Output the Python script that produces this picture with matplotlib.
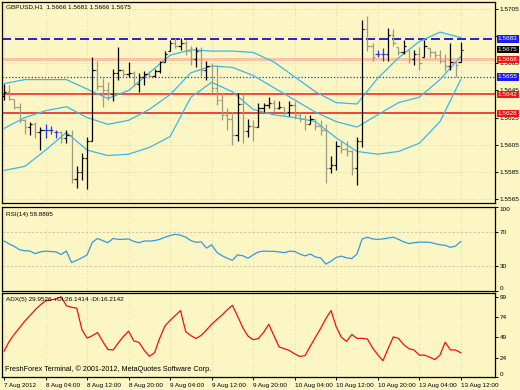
import numpy as np
import matplotlib.pyplot as plt
from matplotlib.transforms import blended_transform_factory

plt.rcParams['font.family'] = ['Liberation Sans', 'DejaVu Sans']

bg = '#fcf6c4'

# GBPUSD H1, 7 Aug 20:00 .. 13 Aug 12:00
opens = [1.5641, 1.5644, 1.5639, 1.5633, 1.5623, 1.5618, 1.5620, 1.5614, 1.5616, 1.5616,
         1.5614, 1.5614, 1.5610, 1.5612, 1.5580, 1.5585, 1.5595, 1.5608, 1.5660, 1.5648,
         1.5645, 1.5642, 1.5658, 1.5660, 1.5657, 1.5658, 1.5650, 1.5655, 1.5657, 1.5656,
         1.5659, 1.5666, 1.5674, 1.5680, 1.5678, 1.5680, 1.5674, 1.5668, 1.5674, 1.5660,
         1.5663, 1.5647, 1.5638, 1.5627, 1.5624, 1.5612, 1.5635, 1.5615, 1.5619, 1.5618,
         1.5632, 1.5634, 1.5636, 1.5632, 1.5633, 1.5629, 1.5634, 1.5627, 1.5624, 1.5620,
         1.5624, 1.5619, 1.5616, 1.5588, 1.5590, 1.5604, 1.5602, 1.5600, 1.5588, 1.5608,
         1.5690, 1.5678, 1.5672, 1.5672, 1.5672, 1.5686, 1.5677, 1.5673, 1.5675, 1.5668,
         1.5672, 1.5670, 1.5676, 1.5673, 1.5671, 1.5667, 1.5663, 1.5666, 1.5666]
highs = [1.5650, 1.5649, 1.5639, 1.5636, 1.5624, 1.5622, 1.5622, 1.5618, 1.5620, 1.5619,
         1.5616, 1.5615, 1.5616, 1.5616, 1.5589, 1.5599, 1.5611, 1.5670, 1.5667, 1.5654,
         1.5651, 1.5661, 1.5677, 1.5661, 1.5666, 1.5659, 1.5658, 1.5659, 1.5659, 1.5661,
         1.5667, 1.5674, 1.5682, 1.5684, 1.5684, 1.5682, 1.5678, 1.5677, 1.5677, 1.5667,
         1.5665, 1.5664, 1.5643, 1.5632, 1.5629, 1.5643, 1.5642, 1.5624, 1.5623, 1.5636,
         1.5636, 1.5640, 1.5638, 1.5637, 1.5633, 1.5637, 1.5637, 1.5629, 1.5627, 1.5627,
         1.5624, 1.5623, 1.5620, 1.5597, 1.5608, 1.5608, 1.5608, 1.5601, 1.5611, 1.5697,
         1.5700, 1.5680, 1.5675, 1.5676, 1.5691, 1.5690, 1.5677, 1.5682, 1.5675, 1.5675,
         1.5677, 1.5682, 1.5676, 1.5674, 1.5675, 1.5672, 1.5680, 1.5667, 1.5681]
lows = [1.5638, 1.5638, 1.5631, 1.5621, 1.5613, 1.5612, 1.5610, 1.5601, 1.5610, 1.5613,
        1.5610, 1.5606, 1.5606, 1.5577, 1.5573, 1.5579, 1.5572, 1.5608, 1.5645, 1.5633,
        1.5638, 1.5637, 1.5653, 1.5655, 1.5655, 1.5648, 1.5644, 1.5649, 1.5655, 1.5655,
        1.5658, 1.5666, 1.5674, 1.5676, 1.5675, 1.5671, 1.5664, 1.5662, 1.5656, 1.5653,
        1.5643, 1.5634, 1.5623, 1.5616, 1.5605, 1.5608, 1.5606, 1.5611, 1.5608, 1.5618,
        1.5629, 1.5632, 1.5629, 1.5631, 1.5627, 1.5626, 1.5624, 1.5622, 1.5616, 1.5620,
        1.5616, 1.5612, 1.5577, 1.5584, 1.5586, 1.5599, 1.5597, 1.5583, 1.5575, 1.5603,
        1.5674, 1.5667, 1.5670, 1.5667, 1.5667, 1.5678, 1.5671, 1.5672, 1.5665, 1.5664,
        1.5660, 1.5670, 1.5670, 1.5669, 1.5665, 1.5659, 1.5660, 1.5655, 1.5666]
closes = [1.5644, 1.5639, 1.5633, 1.5623, 1.5618, 1.5620, 1.5614, 1.5616, 1.5616, 1.5616,
          1.5614, 1.5610, 1.5612, 1.5580, 1.5585, 1.5595, 1.5608, 1.5660, 1.5648, 1.5645,
          1.5642, 1.5658, 1.5660, 1.5657, 1.5658, 1.5650, 1.5655, 1.5657, 1.5656, 1.5659,
          1.5666, 1.5672, 1.5680, 1.5678, 1.5680, 1.5674, 1.5668, 1.5674, 1.5660, 1.5663,
          1.5647, 1.5638, 1.5627, 1.5624, 1.5612, 1.5635, 1.5615, 1.5619, 1.5618, 1.5632,
          1.5634, 1.5636, 1.5632, 1.5633, 1.5629, 1.5634, 1.5627, 1.5624, 1.5620, 1.5624,
          1.5619, 1.5616, 1.5588, 1.5590, 1.5604, 1.5602, 1.5600, 1.5588, 1.5608, 1.5690,
          1.5678, 1.5670, 1.5672, 1.5672, 1.5686, 1.5680, 1.5673, 1.5678, 1.5668, 1.5672,
          1.5665, 1.5678, 1.5673, 1.5671, 1.5667, 1.5663, 1.5666, 1.5664, 1.5675]

# Bollinger bands, read every 4th bar
band_step = 4
bb_upper = [1.5650, 1.5653, 1.5653, 1.5653, 1.5646, 1.5639, 1.5645, 1.5658, 1.5671, 1.5675,
            1.5674, 1.5674, 1.5673, 1.5666, 1.5655, 1.5644, 1.5636, 1.5635, 1.5654, 1.5669,
            1.5681, 1.5688, 1.5684]
bb_mid = [1.5617, 1.5625, 1.5630, 1.5633, 1.5625, 1.5620, 1.5623, 1.5631, 1.5642, 1.5658,
          1.5663, 1.5662, 1.5656, 1.5647, 1.5638, 1.5629, 1.5622, 1.5618, 1.5627, 1.5636,
          1.5640, 1.5653, 1.5670]
bb_lower = [1.5586, 1.5589, 1.5601, 1.5614, 1.5601, 1.5597, 1.5598, 1.5603, 1.5611, 1.5640,
            1.5651, 1.5644, 1.5631, 1.5627, 1.5625, 1.5622, 1.5610, 1.5600, 1.5598, 1.5600,
            1.5606, 1.5622, 1.5653]

rsi = [59.5, 56, 53, 49, 48, 47.6, 44.5, 46.5, 47.5, 47,
       46.5, 43.5, 47.5, 34, 36.5, 39.5, 43, 58, 62.5, 60,
       57.5, 62.5, 61.5, 61.5, 62, 59, 57.5, 59.5, 59.5, 60,
       61.5, 64, 66, 67.5, 66.5, 64, 60, 58, 58.5, 51,
       55, 46, 42, 39, 36.6, 43, 42, 39, 43, 46.5,
       47.5, 47.3, 47.2, 46.5, 45.6, 47.5, 47, 44, 41.8, 44,
       40.5, 39.4, 32, 35.5, 40, 41.5, 39.5, 38.6, 44, 62,
       64, 62, 61.5, 62, 63, 64, 61.5, 58.5, 56.5, 57.5,
       58.2, 58.2, 58, 56.5, 55, 54.4, 52, 53.5, 58.89]

adx = [32, 44, 53, 61, 69, 76, 83, 89, 94, 95,
       96.5, 99, 88, 86, 85, 58.5, 48, 51, 55, 44,
       34, 33.3, 42, 50, 56.5, 44.5, 42.8, 33, 25.5, 30,
       48, 63, 70, 76, 82, 56, 51, 47.5, 51.5, 58,
       65, 71, 76.5, 83, 88.5, 75, 61, 50.5, 46, 47.5,
       55, 65, 51, 37, 35, 32.5, 28.5, 25.3, 26.5, 38,
       49, 60, 72, 82, 62, 49, 44, 52.5, 47.7, 47.7,
       47, 36, 27.5, 20, 35, 49.5, 47.7, 40, 35, 33.3,
       27, 27, 24.5, 21.5, 27, 43, 33.5, 33.3, 29.95]

date_pos = [0, 8, 16, 24, 32, 40, 48, 56, 64, 72, 80, 88]
date_labels = ['7 Aug 2012', '8 Aug 04:00', '8 Aug 12:00', '8 Aug 20:00', '9 Aug 04:00',
               '9 Aug 12:00', '9 Aug 20:00', '10 Aug 04:00', '10 Aug 12:00', '10 Aug 20:00',
               '13 Aug 04:00', '13 Aug 12:00']

price_ticks = [1.5565, 1.5585, 1.5605, 1.5625, 1.5645, 1.5665, 1.5685, 1.5705]
# 1.5685 sits fully under the 1.5683 box in the terminal, so it is not shown
price_tick_labels = ['1.5565', '1.5585', '1.5605', '1.5625', '1.5645', '1.5665', '', '1.5705']
level_prices = [1.5683, 1.5668, 1.5655, 1.5642, 1.5628]
level_box = ['#1c1cf0', '#f01414', '#1c1cf0', '#f01414', '#f01414']
current_price = 1.5675

fs = 4.6
grid_kw = dict(color='#d9d2a4', lw=0.6, ls=(0, (1, 2)))

fig = plt.figure(figsize=(5.2, 3.9), dpi=100, facecolor=bg)
W, H = 520, 390
ax1 = fig.add_axes([2 / W, 1 - 203 / H, 493 / W, 201 / H])
ax2 = fig.add_axes([2 / W, 1 - 291 / H, 493 / W, 84 / H], sharex=ax1)
ax3 = fig.add_axes([2 / W, 1 - 377 / H, 493 / W, 84 / H], sharex=ax1)

for ax in (ax1, ax2, ax3):
    ax.set_facecolor(bg)
    for s in ax.spines.values():
        s.set_color('black')
        s.set_linewidth(0.9)
    ax.yaxis.tick_right()
    ax.tick_params(axis='y', which='both', direction='out', length=2.5, width=0.7,
                   pad=1, labelsize=fs, colors='black')
    ax.tick_params(axis='x', length=0, labelbottom=False)
    for p in date_pos:
        ax.axvline(p, zorder=0, **grid_kw)

ax1.set_xlim(-0.4, 94.6)

# ---- price panel
x = np.arange(len(opens))
o = np.array(opens)
c = np.array(closes)
cols = np.where(c > o, 'black', np.where(c < o, '#9d9c84', '#2a38e6'))

for p in price_ticks:
    ax1.axhline(p, zorder=0, **grid_kw)

ax1.axhline(level_prices[1], color='#f6c3a3', lw=2.2, zorder=1)
ax1.axhline(level_prices[0], color='#1414c8', lw=1.3, ls=(0, (5, 2.2)), zorder=2)
ax1.axhline(level_prices[2], color='#2e2eff', lw=0.9, ls=(0, (1, 1.6)), zorder=2)
ax1.axhline(level_prices[3], color='#f01c1c', lw=1.1, zorder=2)
ax1.axhline(level_prices[4], color='#e81414', lw=1.1, zorder=2)

bx = np.arange(0, len(opens), band_step)
for band in (bb_upper, bb_mid, bb_lower):
    ax1.plot(bx, band, color='#38b8ec', lw=0.9, zorder=3)

ax1.vlines(x, lows, highs, colors=cols, lw=0.9, zorder=4)
ax1.hlines(opens, x - 0.45, x, colors=cols, lw=0.9, zorder=4)
ax1.hlines(closes, x, x + 0.45, colors=cols, lw=0.9, zorder=4)

ax1.set_ylim(1.55620, 1.57102)
ax1.set_yticks(price_ticks)
ax1.set_yticklabels(price_tick_labels)

tr = blended_transform_factory(ax1.transAxes, ax1.transData)
for p, fc in zip(level_prices, level_box):
    ax1.text(1.006, p, '%.4f' % p, transform=tr, ha='left', va='center', fontsize=fs,
             color='white', bbox=dict(boxstyle='square,pad=0.18', fc=fc, ec='none'),
             clip_on=False, zorder=6)
ax1.text(1.006, current_price, '%.4f' % current_price, transform=tr, ha='left', va='center',
         fontsize=fs, color='white',
         bbox=dict(boxstyle='square,pad=0.18', fc='black', ec='none'), clip_on=False, zorder=7)

ax1.text(0.008, 0.974, 'GBPUSD,H1  1.5666 1.5681 1.5666 1.5675', transform=ax1.transAxes,
         fontsize=fs, va='center', ha='left')

# ---- RSI panel
ax2.axhline(70, color='#c9c2a0', lw=0.6, ls=(0, (3, 2)), zorder=0)
ax2.axhline(30, color='#c9c2a0', lw=0.6, ls=(0, (3, 2)), zorder=0)
ax2.plot(x, rsi, color='#2f9ae6', lw=0.9)
ax2.set_ylim(0, 100)
ax2.set_yticks([0, 30, 70, 100])
ax2.set_yticklabels(['0', '30', '70', '100'])
lbls = ax2.get_yticklabels()
lbls[0].set_va('bottom')
lbls[-1].set_va('top')
ax2.text(0.008, 0.905, 'RSI(14) 58.8895', transform=ax2.transAxes, fontsize=fs,
         va='center', ha='left')

# ---- ADX panel
ax3.plot(x, adx, color='#ee1212', lw=0.9)
ax3.set_ylim(0, 103.7)
ax3.set_yticks([0, 24, 49, 74, 99])
ax3.set_yticklabels(['0', '24', '49', '74', '99'])
ax3.get_yticklabels()[0].set_va('bottom')
ax3.text(0.008, 0.917, 'ADX(5) 29.9526 +DI:26.1414 -DI:16.2142', transform=ax3.transAxes,
         fontsize=fs, va='center', ha='left')
ax3.text(0.006, 0.05, 'FreshForex Terminal, \u00a9 2001-2012, MetaQuotes Software Corp.',
         transform=ax3.transAxes, fontsize=5.2, va='bottom', ha='left')

ax3.set_xticks(date_pos)
ax3.set_xticklabels(date_labels)
ax3.tick_params(axis='x', labelbottom=True, direction='out', length=2.5, width=0.7,
                pad=1.5, labelsize=fs)
for t in ax3.get_xticklabels():
    t.set_ha('left')

fig.savefig('out.png', dpi=100, facecolor=bg)
